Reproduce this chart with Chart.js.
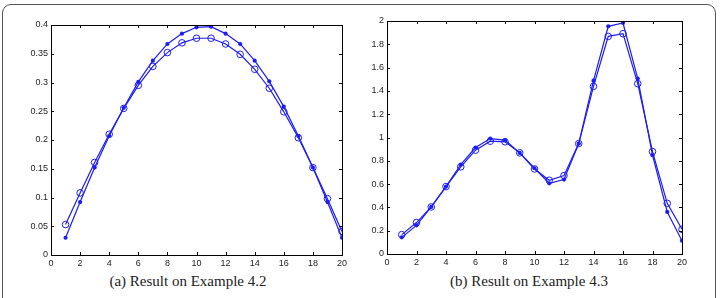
<!DOCTYPE html>
<html>
<head>
<meta charset="utf-8">
<script src="https://cdn.jsdelivr.net/npm/chart.js@4.4.0/dist/chart.umd.min.js"></script>
<style>
    body { margin: 0; background: #fff; width: 721px; height: 298px; overflow: hidden; position: relative; }
    .frame { position: absolute; left: 2px; top: 4px; width: 714px; height: 320px; border: 1.3px solid #555; border-radius: 9px; box-sizing: border-box; }
    .chart-box { position: absolute; top: 0; height: 272px; }
    .caption { position: absolute; top: 273px; font-family: "Liberation Serif", "DejaVu Serif", serif; font-size: 15px; color: #222; text-align: center; width: 300px; }
</style>
</head>
<body>
<div class="frame"></div>
<div class="chart-box" style="left:0; width:360px;"><canvas id="chartA"></canvas></div>
<div class="chart-box" style="left:360px; width:361px;"><canvas id="chartB"></canvas></div>
<div class="caption" style="left:38px;">(a) Result on Example 4.2</div>
<div class="caption" style="left:379px;">(b) Result on Example 4.3</div>
<script>
    // x positions shared by both plots
    const steps = [1, 2, 3, 4, 5, 6, 7, 8, 9, 10, 11, 12, 13, 14, 15, 16, 17, 18, 19, 20];

    // (a) Example 4.2
    const exA_dots = [0.030, 0.092, 0.152, 0.207, 0.256, 0.301, 0.338, 0.367, 0.385, 0.396,
                      0.397, 0.385, 0.367, 0.338, 0.302, 0.258, 0.207, 0.152, 0.092, 0.030];
    const exA_circles = [0.053, 0.108, 0.161, 0.210, 0.255, 0.295, 0.328, 0.352, 0.369, 0.377,
                         0.377, 0.367, 0.349, 0.323, 0.290, 0.249, 0.204, 0.152, 0.098, 0.041];
    const exA_yTicks = [0, 0.05, 0.1, 0.15, 0.2, 0.25, 0.3, 0.35, 0.4];

    // (b) Example 4.3
    const exB_dots = [0.143, 0.246, 0.404, 0.579, 0.768, 0.914, 0.991, 0.977, 0.868, 0.736,
                      0.607, 0.639, 0.948, 1.488, 1.954, 1.983, 1.505, 0.848, 0.361, 0.114];
    const exB_circles = [0.166, 0.270, 0.404, 0.579, 0.748, 0.891, 0.968, 0.963, 0.868, 0.730,
                         0.633, 0.673, 0.948, 1.439, 1.868, 1.891, 1.462, 0.879, 0.435, 0.212];
    const exB_yTicks = [0, 0.2, 0.4, 0.6, 0.8, 1, 1.2, 1.4, 1.6, 1.8, 2];

    const xTicks = [0, 2, 4, 6, 8, 10, 12, 14, 16, 18, 20];
    const lineBlue = '#1c1cf5';

    // matlab style box with inward ticks on all four sides
    const boxPlugin = {
        id: 'matlabBox',
        afterDraw(chart) {
            const {ctx, chartArea: a, scales} = chart;
            ctx.save();
            ctx.strokeStyle = '#000';
            ctx.lineWidth = 1;
            ctx.strokeRect(Math.round(a.left) + 0.5, Math.round(a.top) + 0.5,
                Math.round(a.right - a.left), Math.round(a.bottom - a.top));
            ctx.beginPath();
            scales.x.ticks.forEach(t => {
                const px = Math.round(scales.x.getPixelForValue(t.value)) + 0.5;
                ctx.moveTo(px, a.bottom); ctx.lineTo(px, a.bottom - 3);
                ctx.moveTo(px, a.top); ctx.lineTo(px, a.top + 3);
            });
            scales.y.ticks.forEach(t => {
                const py = Math.round(scales.y.getPixelForValue(t.value)) + 0.5;
                ctx.moveTo(a.left, py); ctx.lineTo(a.left + 3, py);
                ctx.moveTo(a.right, py); ctx.lineTo(a.right - 3, py);
            });
            ctx.stroke();
            ctx.restore();
        }
    };

    function makeChart(id, dots, circles, yTicks, yMax, yWidth, pad) {
        const tickFont = {family: '"Liberation Sans", Arial, sans-serif', size: 9};
        return new Chart(document.getElementById(id), {
            type: 'line',
            data: {
                datasets: [{
                    data: steps.map((x, i) => ({x: x, y: circles[i]})),
                    borderColor: lineBlue,
                    borderWidth: 1.2,
                    pointStyle: 'circle',
                    pointRadius: 3.3,
                    pointBorderWidth: 1,
                    pointBorderColor: lineBlue,
                    pointBackgroundColor: 'rgba(0,0,0,0)',
                    tension: 0
                }, {
                    data: steps.map((x, i) => ({x: x, y: dots[i]})),
                    borderColor: lineBlue,
                    borderWidth: 1.2,
                    pointStyle: 'circle',
                    pointRadius: 2.1,
                    pointBorderWidth: 0,
                    pointBackgroundColor: lineBlue,
                    tension: 0
                }]
            },
            options: {
                responsive: true,
                maintainAspectRatio: false,
                animation: false,
                layout: {padding: pad},
                plugins: {legend: {display: false}, tooltip: {enabled: false}},
                scales: {
                    x: {
                        type: 'linear',
                        min: 0,
                        max: 20,
                        grid: {display: false, drawTicks: false},
                        border: {display: false},
                        afterBuildTicks: s => { s.ticks = xTicks.map(v => ({value: v})); },
                        afterFit: s => { s.height = 17; },
                        ticks: {font: tickFont, color: '#222', padding: 3, maxRotation: 0}
                    },
                    y: {
                        min: 0,
                        max: yMax,
                        grid: {display: false, drawTicks: false},
                        border: {display: false},
                        afterBuildTicks: s => { s.ticks = yTicks.map(v => ({value: v})); },
                        afterFit: s => { s.width = yWidth; },
                        ticks: {font: tickFont, color: '#222', padding: 3, callback: v => String(v)}
                    }
                }
            },
            plugins: [boxPlugin]
        });
    }

    makeChart('chartA', exA_dots, exA_circles, exA_yTicks, 0.4, 51, {top: 25, right: 18, bottom: 0, left: 0});
    makeChart('chartB', exB_dots, exB_circles, exB_yTicks, 2, 27, {top: 21, right: 39, bottom: 1, left: 0});
</script>
</body>
</html>
